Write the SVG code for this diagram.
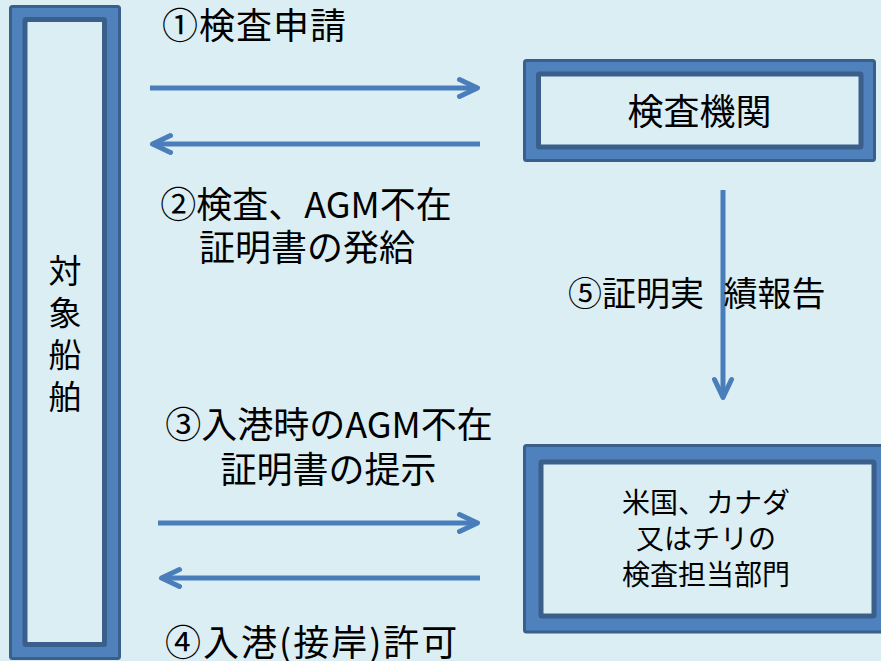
<svg xmlns="http://www.w3.org/2000/svg" width="881" height="661" viewBox="0 0 881 661">
<style>
.outer{fill:#4F81BD;stroke:#3A5F8B;stroke-width:3}
.inner{fill:#DBEEF4;stroke:#3A5F8B;stroke-width:5}
.t{font-family:"Noto Sans CJK JP","Noto Sans",sans-serif;fill:#000}
.lbl{font-size:36px}
.conn{stroke:#4A7EBB;stroke-width:5;fill:none;marker-end:url(#ah)}
</style>
<defs>
<marker id="ah" markerUnits="userSpaceOnUse" viewBox="-25 -15 30 30" refX="0" refY="0" markerWidth="30" markerHeight="30" orient="auto" overflow="visible">
<path d="M-18,-8.5 L0,0 L-18,8.5" fill="none" stroke="#4A7EBB" stroke-width="5" stroke-linecap="round" stroke-linejoin="round"/>
</marker>
</defs>
<rect width="881" height="661" fill="#DBEEF4"/>
<g id="ship">
<rect class="outer" x="10.5" y="6.5" width="109" height="652" rx="2"/>
<rect class="inner" x="25" y="19.5" width="79.5" height="625" rx="1"/>
<text class="t" font-size="33" text-anchor="middle"><tspan x="65" y="283">対</tspan><tspan x="65" y="325">象</tspan><tspan x="65" y="367">船</tspan><tspan x="65" y="409">舶</tspan></text>
</g>
<g id="inspection-body">
<rect class="outer" x="524.5" y="60.5" width="350" height="100" rx="2"/>
<rect class="inner" x="538.5" y="74" width="322.5" height="73" rx="1"/>
<text class="t" font-size="36" x="699.5" y="124.5" text-anchor="middle">検査機関</text>
</g>
<g id="authority">
<rect class="outer" x="524.5" y="445.5" width="370" height="186.5" rx="2"/>
<rect class="inner" x="541" y="462" width="333" height="154" rx="1"/>
<text class="t" font-size="28" text-anchor="middle"><tspan x="706" y="513">米国、カナダ</tspan><tspan x="706" y="549">又はチリの</tspan><tspan x="706" y="585">検査担当部門</tspan></text>
</g>
<g id="connectors">
<line class="conn" x1="150" y1="88" x2="477.5" y2="88"/>
<line class="conn" x1="480" y1="144" x2="152.5" y2="144"/>
<line class="conn" x1="158" y1="523" x2="477.5" y2="523"/>
<line class="conn" x1="480" y1="578" x2="161.5" y2="578"/>
<line class="conn" x1="723" y1="190" x2="723" y2="397.5"/>
</g>
<g id="labels">
<text class="t lbl" x="162" y="39" letter-spacing="1">①検査申請</text>
<text class="t lbl" text-anchor="middle"><tspan x="306" y="217.5">②検査、AGM不在</tspan><tspan x="307" y="260.5">証明書の発給</tspan></text>
<text class="t" font-size="34" x="568" y="306" word-spacing="12">⑤証明実 績報告</text>
<text class="t lbl" text-anchor="middle"><tspan x="329" y="438">③入港時のAGM不在</tspan><tspan x="328.5" y="483">証明書の提示</tspan></text>
<text class="t lbl" x="165" y="655.5" letter-spacing="2">④入港(接岸)許可</text>
</g>
</svg>
